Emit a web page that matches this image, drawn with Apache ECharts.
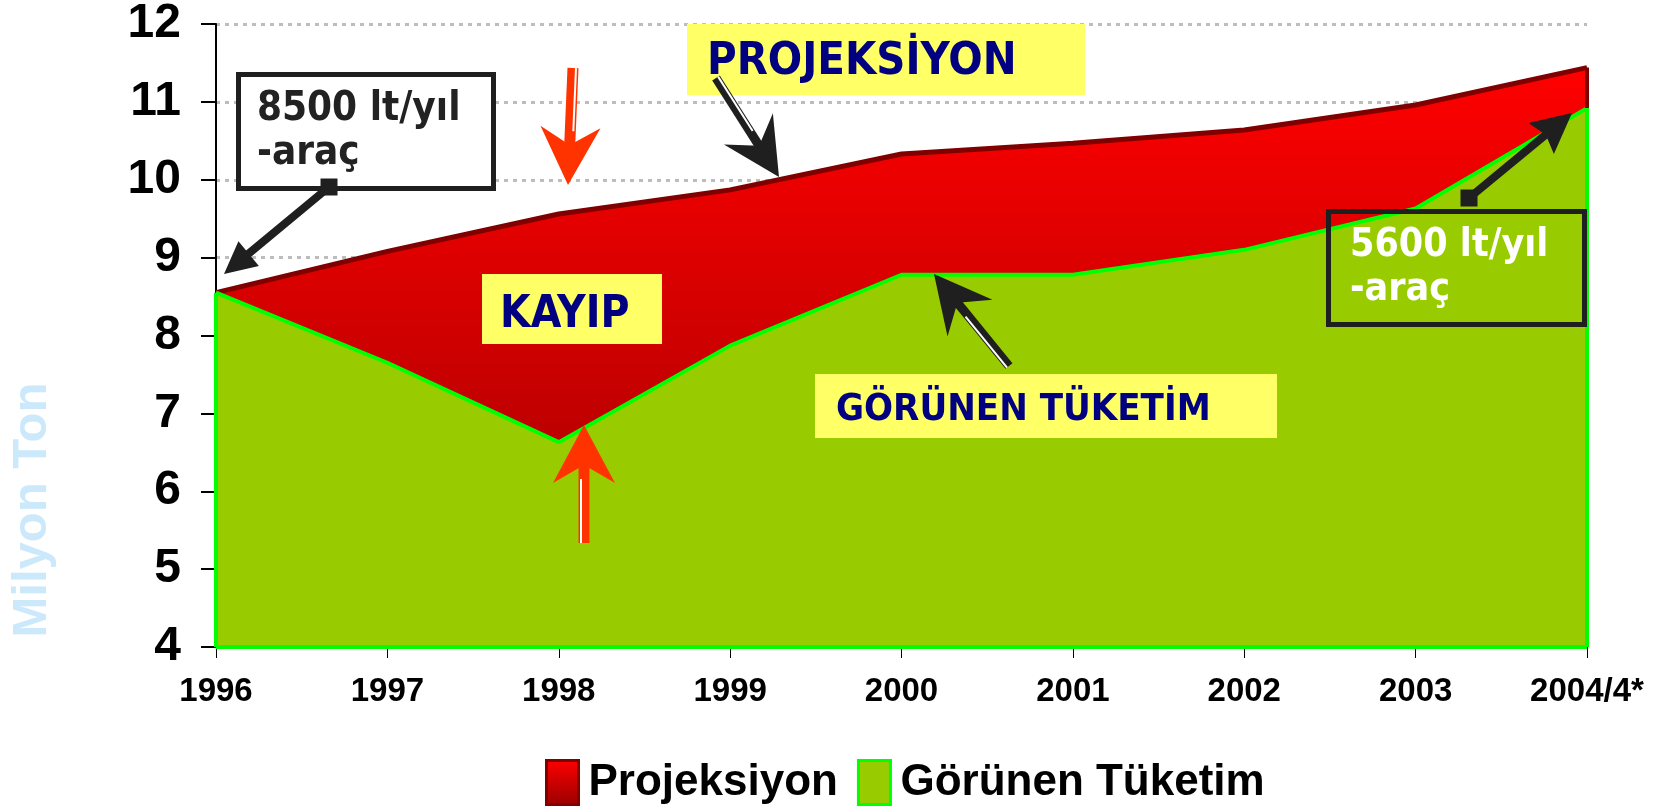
<!DOCTYPE html>
<html>
<head>
<meta charset="utf-8">
<title>Projeksiyon - Görünen Tüketim</title>
<script src="https://cdn.jsdelivr.net/npm/echarts@6/dist/echarts.min.js"></script>
<style>
    html, body { margin: 0; padding: 0; background: #fff; }
    #chart { width: 1656px; height: 811px; }
</style>
</head>
<body>
<div id="chart"></div>
<script>
// veriler (milyon ton)
var years = ['1996', '1997', '1998', '1999', '2000', '2001', '2002', '2003', '2004/4*'];
var projeksiyon = [8.55, 9.08, 9.56, 9.87, 10.33, 10.47, 10.64, 10.96, 11.44];
var gorunenTuketim = [8.55, 7.65, 6.63, 7.87, 8.78, 8.78, 9.10, 9.63, 10.92];
var yMin = 4,
    yMax = 12,
    yStep = 1;
var seriesNames = ['Projeksiyon', 'Görünen Tüketim'];

var chart,
    black = '#1f1f1f',
    navy = '#000080',
    yellow = '#ffff66',
    redArrow = '#ff3300',
    condFont = '"DejaVu Sans Condensed", "DejaVu Sans", sans-serif',
    sansFont = '"Liberation Sans", Arial, sans-serif';

function redGradient() {
    return new echarts.graphic.LinearGradient(0, 0, 0, 1, [
        { offset: 0, color: '#ff0000' },
        { offset: 1, color: '#990000' }
    ]);
}

/* ok çizimi: gövde, beyaz şerit, uç ve kuyruk bloğu */
function arrow(x1, y1, x2, y2, o) {
    var dx = x2 - x1, dy = y2 - y1,
        len = Math.sqrt(dx * dx + dy * dy),
        ux = dx / len, uy = dy / len,
        px = -uy, py = ux,
        bx = x2 - ux * o.headLen, by = y2 - uy * o.headLen,
        nx = bx + ux * (o.notch || 0), ny = by + uy * (o.notch || 0),
        hw = o.headW / 2,
        els = [];

    els.push({
        type: 'line', z: 20,
        shape: { x1: x1, y1: y1, x2: nx + ux * 2, y2: ny + uy * 2 },
        style: { stroke: o.color, lineWidth: o.width }
    });
    if (o.stripe) {
        var off = o.stripe;
        els.push({
            type: 'line', z: 21,
            shape: {
                x1: x1 + px * off, y1: y1 + py * off,
                x2: bx + px * off + ux * 4, y2: by + py * off + uy * 4
            },
            style: { stroke: '#fff', lineWidth: 2 }
        });
    }
    els.push({
        type: 'polygon', z: 22,
        shape: { points: [[x2, y2], [bx + px * hw, by + py * hw], [nx, ny], [bx - px * hw, by - py * hw]] },
        style: { fill: o.color }
    });
    if (o.block) {
        // kuyruktaki kare blok (eksenlere hizalı)
        els.push({
            type: 'rect', z: 22,
            shape: { x: x1 - o.block / 2, y: y1 - o.block / 2, width: o.block, height: o.block },
            style: { fill: o.color }
        });
    }
    return els;
}

function textEl(x, y, text, size, color, extra) {
    var el = {
        type: 'text', z: 25, x: x, y: y,
        style: {
            text: text,
            fontSize: size,
            fontWeight: 'bold',
            fontFamily: condFont,
            fill: color,
            verticalAlign: 'middle'
        }
    };
    if (extra) {
        for (var k in extra) el.style[k] = extra[k];
    }
    return el;
}

function boxEl(x, y, w, h, fill, stroke) {
    return {
        type: 'rect', z: 19,
        shape: { x: x, y: y, width: w, height: h },
        style: { fill: fill || 'none', stroke: stroke || null, lineWidth: stroke ? 5 : 0 }
    };
}

/* açıklama kutuları ve oklar */
function buildNotes() {
    var g = [];

    // sol üst kutu
    g.push(boxEl(238.5, 74.5, 255, 114, '#fff', black));
    g.push(textEl(257, 132, '8500 lt/yıl\n-araç', 40, '#222', { lineHeight: 44 }));
    g = g.concat(arrow(329, 187, 224, 274, { color: black, width: 8, headLen: 32, headW: 32, notch: 0, block: 17 }));

    // PROJEKSİYON
    g.push(boxEl(687, 24, 398, 71, yellow));
    g.push(textEl(707, 62, 'PROJEKSİYON', 45, navy));
    g = g.concat(arrow(716, 78, 779, 177, { color: black, width: 9, headLen: 57, headW: 58, notch: 20, stripe: -2.5 }));

    // KAYIP
    g.push(boxEl(482, 274, 180, 70, yellow));
    g.push(textEl(500, 316, 'KAYIP', 44, navy));

    // kırmızı oklar
    g = g.concat(arrow(573, 68, 568, 185, { color: redArrow, width: 11, headLen: 58, headW: 60, notch: 18, stripe: -3 }));
    g = g.concat(arrow(584, 543, 584, 425, { color: redArrow, width: 11, headLen: 58, headW: 62, notch: 18, stripe: -3 }));

    // GÖRÜNEN TÜKETİM
    g.push(boxEl(815, 374, 462, 64, yellow));
    g.push(textEl(836, 410, 'GÖRÜNEN TÜKETİM', 38, navy));
    g = g.concat(arrow(1009, 366, 934, 274, { color: black, width: 9, headLen: 57, headW: 58, notch: 20, stripe: -2.5 }));

    // sağ kutu
    g.push(boxEl(1328.5, 211.5, 256, 113, null, black));
    g.push(textEl(1350, 268, '5600 lt/yıl\n-araç', 39, '#fff', { lineHeight: 44 }));
    g = g.concat(arrow(1469, 198, 1572, 113, { color: black, width: 8, headLen: 40, headW: 40, notch: 6, block: 17 }));

    // eksen adı
    g.push({
        type: 'text', z: 25, x: 32, y: 510, rotation: Math.PI / 2,
        style: {
            text: 'Milyon Ton', fontSize: 49, fontWeight: 'bold', fontFamily: sansFont,
            fill: '#cce9fc', align: 'center', verticalAlign: 'middle'
        }
    });
    return g;
}

function init() {
    chart = echarts.init(document.getElementById('chart'), null, { renderer: 'canvas' });
    var last = years.length - 1;

    var option = {
        animation: false,
        backgroundColor: '#fff',
        grid: { left: 216, right: 69, top: 23, bottom: 164 },
        legend: {
            left: 540,
            top: 754,
            icon: 'rect',
            itemWidth: 32,
            itemHeight: 44,
            itemGap: 19,
            textStyle: { fontSize: 44, fontWeight: 'bold', fontFamily: sansFont, color: '#000', padding: [0, 0, 0, 5] },
            data: [
                { name: seriesNames[0], itemStyle: { color: redGradient(), borderColor: '#800000', borderWidth: 3 } },
                { name: seriesNames[1], itemStyle: { color: '#99cc00', borderColor: '#00ff00', borderWidth: 3 } }
            ]
        },
        xAxis: {
            type: 'category',
            data: years,
            boundaryGap: false,
            axisLine: { lineStyle: { color: '#000', width: 2 } },
            axisTick: { show: true, length: 11, lineStyle: { color: '#000', width: 1 } },
            axisLabel: {
                interval: 0, margin: 28, fontSize: 33, fontWeight: 'bold',
                fontFamily: sansFont, color: '#000'
            },
            splitLine: { show: false }
        },
        yAxis: {
            type: 'value',
            min: yMin,
            max: yMax,
            interval: yStep,
            axisLine: { show: true, lineStyle: { color: '#000', width: 2 } },
            axisTick: { show: true, length: 15, lineStyle: { color: '#000', width: 2 } },
            axisLabel: {
                margin: 35, fontSize: 48, fontWeight: 'bold',
                fontFamily: '"Liberation Sans Narrow", ' + sansFont, color: '#000'
            },
            splitLine: { show: true, lineStyle: { color: '#bdbdbd', width: 3, type: [4, 5] } }
        },
        series: [{
            name: seriesNames[0],
            type: 'line',
            data: projeksiyon,
            symbol: 'none',
            z: 2,
            lineStyle: { color: '#800000', width: 5 },
            itemStyle: { color: '#cc0000' },
            areaStyle: { origin: 'start', opacity: 1, color: redGradient() },
            markLine: {
                silent: true, symbol: 'none', label: { show: false },
                lineStyle: { color: '#800000', width: 4, type: 'solid' },
                data: [[{ coord: [last, yMin] }, { coord: [last, projeksiyon[last]] }]]
            }
        }, {
            name: seriesNames[1],
            type: 'line',
            data: gorunenTuketim,
            symbol: 'none',
            z: 3,
            lineStyle: { color: '#00ff00', width: 4 },
            itemStyle: { color: '#99cc00' },
            areaStyle: { origin: 'start', opacity: 1, color: '#99cc00' },
            markLine: {
                silent: true, symbol: 'none', label: { show: false },
                lineStyle: { color: '#00ff00', width: 4, type: 'solid' },
                data: [
                    [{ coord: [0, yMin] }, { coord: [0, gorunenTuketim[0]] }],
                    [{ coord: [last, yMin] }, { coord: [last, gorunenTuketim[last]] }],
                    [{ coord: [0, yMin] }, { coord: [last, yMin] }]
                ]
            }
        }],
        graphic: buildNotes()
    };

    chart.setOption(option);
}

init();
</script>
</body>
</html>
